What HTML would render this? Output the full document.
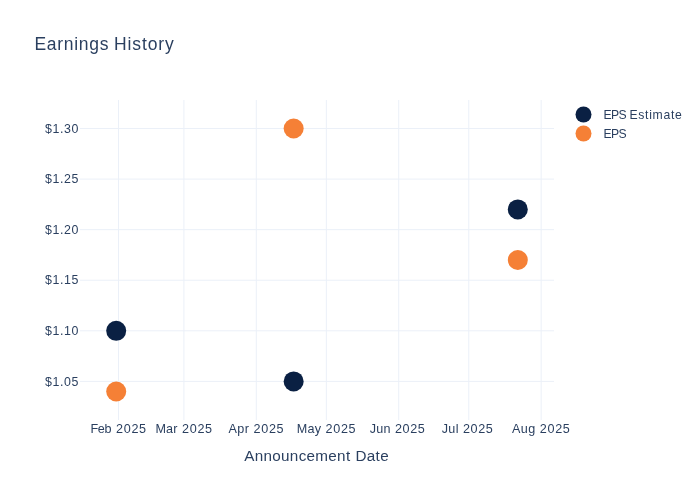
<!DOCTYPE html>
<html lang="en"><head><meta charset="utf-8"><title>Earnings History</title>
<style>
html,body{margin:0;padding:0;background:#fff;}
body{width:700px;height:500px;overflow:hidden;}
svg{display:block;will-change:transform;}
text{font-family:"Liberation Sans",sans-serif;fill:#2a3f5f;white-space:pre;}
.tx{font-size:12.6px;}
.ty{font-size:12.4px;}
.l{font-size:12.2px;}
.a{font-size:15.25px;}
.h{font-size:17.5px;}
</style></head>
<body>
<svg width="700" height="500" viewBox="0 0 700 500">
<rect x="0" y="0" width="700" height="500" fill="#ffffff"/>
<g stroke="#ebf0f8" stroke-width="1" fill="none">
<path d="M118.53,100V420"/>
<path d="M183.91,100V420"/>
<path d="M256.29,100V420"/>
<path d="M326.34,100V420"/>
<path d="M398.72,100V420"/>
<path d="M468.77,100V420"/>
<path d="M541.15,100V420"/>
<path d="M80,128.50H554"/>
<path d="M80,179.08H554"/>
<path d="M80,229.65H554"/>
<path d="M80,280.23H554"/>
<path d="M80,330.81H554"/>
<path d="M80,381.38H554"/>
</g>
<g fill="#0a2043">
<circle cx="116.20" cy="330.81" r="10"/>
<circle cx="293.65" cy="381.38" r="10"/>
<circle cx="517.80" cy="209.42" r="10"/>
</g>
<g fill="#f58036">
<circle cx="116.20" cy="391.50" r="10"/>
<circle cx="293.65" cy="128.50" r="10"/>
<circle cx="517.80" cy="260.00" r="10"/>
</g>
<text class="tx" y="433"><tspan x="90.5" style="letter-spacing:-0.4px">Feb </tspan><tspan x="116" style="letter-spacing:0.7px">2025</tspan></text>
<text class="tx" y="433"><tspan x="155.5" style="letter-spacing:0.1px">Mar </tspan><tspan x="182" style="letter-spacing:0.7px">2025</tspan></text>
<text class="tx" y="433"><tspan x="228.5" style="letter-spacing:0.4px">Apr </tspan><tspan x="253.5" style="letter-spacing:0.7px">2025</tspan></text>
<text class="tx" y="433"><tspan x="296.75" style="letter-spacing:0.2px">May </tspan><tspan x="325.5" style="letter-spacing:0.7px">2025</tspan></text>
<text class="tx" y="433"><tspan x="369.75" style="letter-spacing:0.2px">Jun </tspan><tspan x="395" style="letter-spacing:0.6px">2025</tspan></text>
<text class="tx" y="433"><tspan x="441.75" style="letter-spacing:0.3px">Jul </tspan><tspan x="463" style="letter-spacing:0.6px">2025</tspan></text>
<text class="tx" y="433"><tspan x="512" style="letter-spacing:0.4px">Aug </tspan><tspan x="539.75" style="letter-spacing:0.7px">2025</tspan></text>
<text class="ty" x="79" y="132.70" text-anchor="end" style="letter-spacing:0.6px">$1.30</text>
<text class="ty" x="79" y="183.28" text-anchor="end" style="letter-spacing:0.6px">$1.25</text>
<text class="ty" x="79" y="233.85" text-anchor="end" style="letter-spacing:0.6px">$1.20</text>
<text class="ty" x="79" y="284.43" text-anchor="end" style="letter-spacing:0.6px">$1.15</text>
<text class="ty" x="79" y="335.01" text-anchor="end" style="letter-spacing:0.6px">$1.10</text>
<text class="ty" x="79" y="385.58" text-anchor="end" style="letter-spacing:0.6px">$1.05</text>
<text class="a" y="460.8"><tspan x="244.25" style="letter-spacing:0.3px">Announcement </tspan><tspan x="355.5" style="letter-spacing:0.3px">Date</tspan></text>
<text class="h" y="49.5"><tspan x="34.5" style="letter-spacing:0.7px">Earnings </tspan><tspan x="114" style="letter-spacing:0.9px">History</tspan></text>
<circle cx="583.5" cy="114.5" r="8" fill="#0a2043"/>
<circle cx="583.5" cy="133.5" r="8" fill="#f58036"/>
<text class="l" y="118.7"><tspan x="603.5" style="letter-spacing:-0.6px">EPS </tspan><tspan x="629.5" style="letter-spacing:0.7px">Estimate</tspan></text>
<text class="l" x="603.5" y="137.7" style="letter-spacing:-0.6px">EPS</text>
</svg>
</body></html>
